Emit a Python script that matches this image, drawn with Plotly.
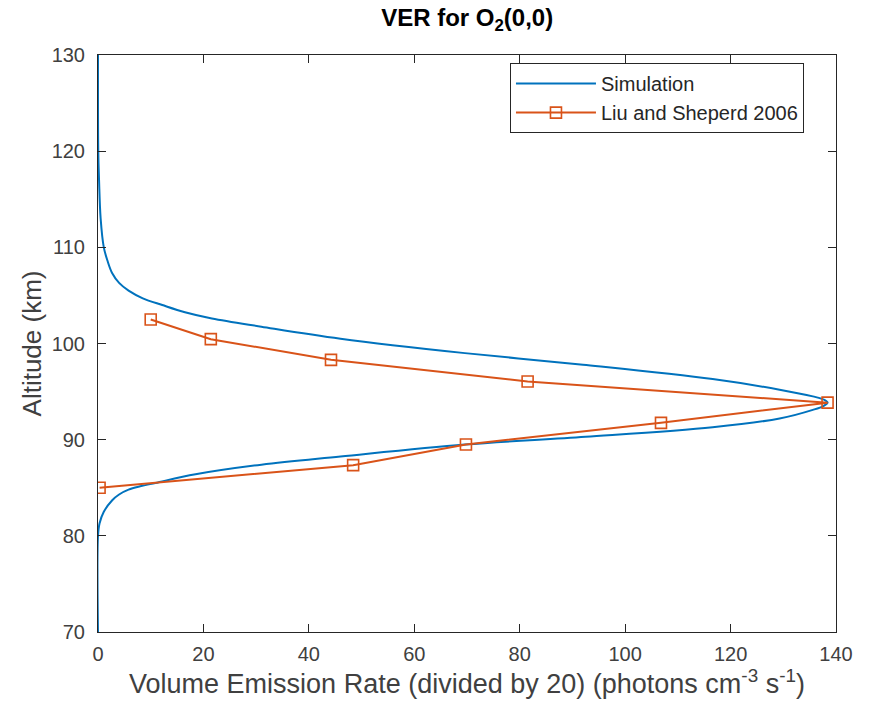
import plotly.graph_objects as go

# Simulation curve
sim_ver = [0, 0.05, 0.2, 0.5, 1.1, 1.8, 2.7, 4.0, 5.8, 8.5, 12.2, 16.5, 21.6, 31.0, 46.0, 69.6, 92.0,
           116.6, 129.3, 135.6, 137.8, 138.4, 137.6, 135.6, 129.3, 116.6, 92.5, 69.6, 46.0,
           31.0, 18.5, 10.9, 8.0, 5.8, 4.0, 2.7, 1.1, 0.3, 0, 0]
sim_alt = [130, 120, 117, 113, 110, 108.6, 107.3, 106.3, 105.5, 104.7, 104.0, 103.25, 102.6, 101.75, 100.5, 99.0, 97.8,
           96.3, 95.2, 94.5, 94.15, 93.85, 93.5, 93.1, 92.2, 91.3, 90.3, 89.5, 88.25,
           87.4, 86.4, 85.5, 85.15, 84.8, 84.3, 83.7, 82.5, 81.3, 80, 70]

# Liu and Sheperd 2006
liu_ver = [10.0, 21.4, 44.2, 81.5, 138.4, 106.8, 69.8, 48.4, 0.3]
liu_alt = [102.5, 100.45, 98.3, 96.05, 93.85, 91.75, 89.5, 87.35, 85.0]

x_ticks = [0, 20, 40, 60, 80, 100, 120, 140]
y_ticks = [70, 80, 90, 100, 110, 120, 130]

FONT = "Liberation Sans, Arial, Helvetica, sans-serif"
AX = "#262626"

fig = go.Figure()
fig.add_trace(go.Scatter(x=sim_ver, y=sim_alt, mode="lines", name="Simulation",
                         line=dict(color="#0072BD", width=2, shape="spline", smoothing=1.0)))
fig.add_trace(go.Scatter(x=liu_ver, y=liu_alt, mode="lines+markers", name="Liu and Sheperd 2006",
                         line=dict(color="#D95319", width=2),
                         marker=dict(symbol="square-open", size=11, color="#D95319",
                                     line=dict(width=1.6, color="#D95319"))))

axis_common = dict(showline=True, linecolor=AX, linewidth=1, mirror="ticks",
                   ticks="inside", ticklen=8, tickcolor=AX, tickwidth=1,
                   showgrid=False, zeroline=False,
                   tickfont=dict(family=FONT, size=20, color="#404040"))

fig.update_layout(
    width=870, height=715,
    margin=dict(l=98, r=34, t=55, b=83),
    paper_bgcolor="white", plot_bgcolor="white",
    font=dict(family=FONT, color=AX),
    title=dict(text="<b>VER for O<sub>2</sub>(0,0)</b>", x=0.537, xanchor="center",
               y=0.975, yanchor="middle", font=dict(family=FONT, size=24, color="black")),
    xaxis=dict(range=[0, 140], tickvals=x_ticks, ticktext=[str(v) for v in x_ticks],
               ticklabelstandoff=4,
               title=dict(text="Volume Emission Rate (divided by 20) (photons cm<sup>-3</sup> s<sup>-1</sup>)",
                          font=dict(family=FONT, size=27, color="#404040"), standoff=8),
               **axis_common),
    yaxis=dict(range=[70, 130], tickvals=y_ticks, ticktext=[str(v) for v in y_ticks],
               ticklabelstandoff=8,
               title=dict(text="Altitude (km)", font=dict(family=FONT, size=26, color="#404040"), standoff=2),
               **axis_common),
    legend=dict(x=0.9566, y=0.986, xanchor="right", yanchor="top",
                bgcolor="white", bordercolor=AX, borderwidth=1,
                font=dict(family=FONT, size=20, color=AX), itemwidth=80,
                tracegroupgap=0),
    showlegend=True,
)

fig.write_html("out.html")
